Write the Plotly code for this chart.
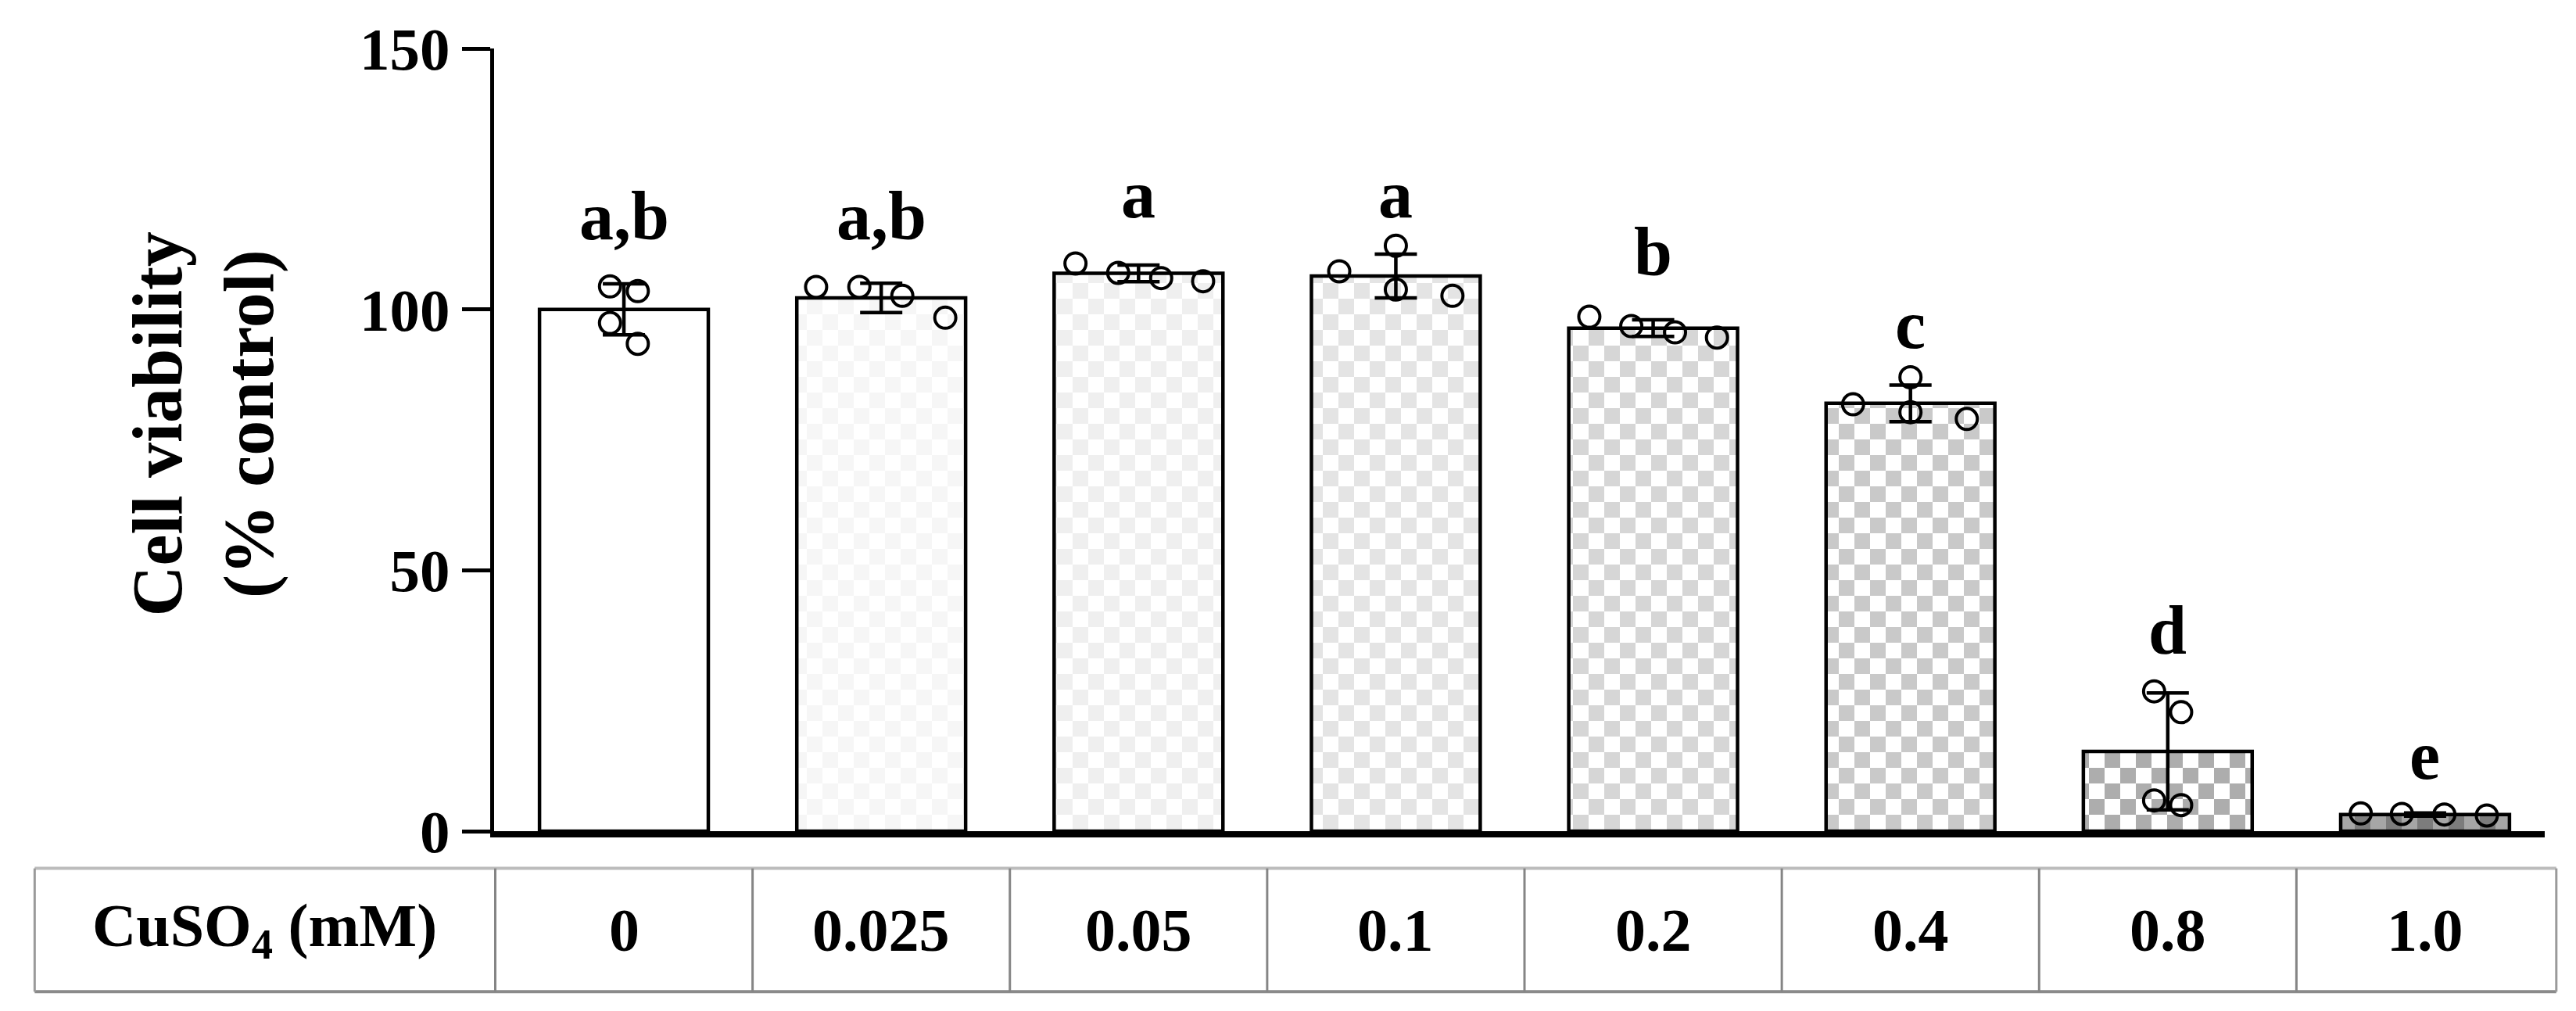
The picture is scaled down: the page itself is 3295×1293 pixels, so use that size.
import plotly.graph_objects as go

# ---------------- data ----------------
conc_labels = ["0", "0.025", "0.05", "0.1", "0.2", "0.4", "0.8", "1.0"]
means = [100.0, 102.2, 106.9, 106.4, 96.4, 82.0, 15.3, 3.2]
sds = [4.9, 2.8, 1.6, 4.2, 1.6, 3.5, 11.2, 0.3]
rep_values = [
    [104.4, 103.5, 97.4, 93.4],
    [104.3, 104.3, 102.6, 98.4],
    [108.8, 107.0, 106.0, 105.4],
    [107.3, 112.2, 103.8, 102.6],
    [98.6, 96.8, 95.6, 94.6],
    [81.8, 87.0, 80.3, 79.0],
    [26.8, 22.8, 5.9, 5.0],
    [3.4, 3.3, 3.2, 3.0],
]
rep_jitter = [
    [-0.054, 0.054, -0.054, 0.054],
    [-0.253, -0.085, 0.082, 0.249],
    [-0.245, -0.079, 0.088, 0.251],
    [-0.22, 0.0, 0.0, 0.22],
    [-0.248, -0.085, 0.085, 0.248],
    [-0.223, 0.0, 0.0, 0.219],
    [-0.053, 0.052, -0.053, 0.052],
    [-0.25, -0.09, 0.075, 0.24],
]
sig_letters = ["a,b", "a,b", "a", "a", "b", "c", "d", "e"]
letter_y = [117.8, 117.8, 122.1, 122.1, 110.9, 97.1, 38.5, 14.5]
y_ticks = [0, 50, 100, 150]
row_title = "CuSO<sub>4</sub> (mM)"
y_title = "Cell viability<br>(% control)"

# ---------------- styles ----------------
check_fg = ["#ffffff", "#f6f6f6", "#efefef", "#e4e4e4", "#d6d6d6", "#c9c9c9", "#adadad", "#7c7c7c"]
check_bg = ["#ffffff", "#ffffff", "#ffffff", "#ffffff", "#ffffff", "#ffffff", "#ffffff", "#a6a6a6"]
CHECKER = "M0,0H20V20H0ZM20,20H40V40H20Z"
FONT = "Liberation Serif"
X0, X1 = -0.5045, 7.465
TABLE_L, TABLE_R = -2.29, 7.51
W, H = 3295, 1293
ML, MR, MT, MB = 624, 48, 46, 238
plot_h = H - MT - MB

x_idx = list(range(len(conc_labels)))

fig = go.Figure()

for i in x_idx:
    marker = dict(color=check_bg[i], line=dict(color="black", width=4.5))
    if check_fg[i] != check_bg[i]:
        marker["pattern"] = dict(path=CHECKER, fgcolor=check_fg[i], bgcolor=check_bg[i],
                                 size=40, solidity=0.5, fillmode="replace")
    fig.add_trace(go.Bar(
        x=[i], y=[means[i]], width=0.656, marker=marker,
        error_y=dict(type="data", array=[sds[i]], visible=True, color="black", thickness=4.5, width=27),
        hoverinfo="skip",
    ))

px, py = [], []
for i, (vals, jit) in enumerate(zip(rep_values, rep_jitter)):
    for v, j in zip(vals, jit):
        px.append(i + j)
        py.append(v)
fig.add_trace(go.Scatter(
    x=px, y=py, mode="markers",
    marker=dict(symbol="circle-open", size=27, color="black", line=dict(width=4)),
    hoverinfo="skip",
))

annotations = []
for i, (lab, ly) in enumerate(zip(sig_letters, letter_y)):
    annotations.append(dict(x=i, y=ly, xref="x", yref="y", text=lab, showarrow=False,
                            yanchor="middle", xanchor="center",
                            font=dict(family=FONT, size=88, color="black", weight="bold")))


def to_paper(xv):
    return (xv - X0) / (X1 - X0)


tbl_top = -(1103 - (H - MB)) / plot_h
tbl_bot = -(1262 - (H - MB)) / plot_h
tbl_mid = (tbl_top + tbl_bot) / 2

shapes = []
shapes.append(dict(type="line", xref="paper", yref="paper", x0=to_paper(TABLE_L), x1=to_paper(TABLE_R),
                   y0=tbl_top, y1=tbl_top, line=dict(color="#bcbcbc", width=4)))
shapes.append(dict(type="line", xref="paper", yref="paper", x0=to_paper(TABLE_L), x1=to_paper(TABLE_R),
                   y0=tbl_bot, y1=tbl_bot, line=dict(color="#8a8a8a", width=4)))
for xv in (TABLE_L, TABLE_R):
    shapes.append(dict(type="line", xref="paper", yref="paper", x0=to_paper(xv), x1=to_paper(xv),
                       y0=tbl_top, y1=tbl_bot, line=dict(color="#9a9a9a", width=3)))
for i in x_idx:
    xv = i - 0.5
    shapes.append(dict(type="line", xref="paper", yref="paper", x0=to_paper(xv), x1=to_paper(xv),
                       y0=tbl_top, y1=tbl_bot, line=dict(color="#858585", width=3)))

tfont = dict(family=FONT, size=78, color="black", weight="bold")
for i, lab in enumerate(conc_labels):
    annotations.append(dict(x=i, y=tbl_mid, xref="x", yref="paper", text=lab, showarrow=False,
                            xanchor="center", yanchor="middle", font=tfont))
annotations.append(dict(x=to_paper((TABLE_L - 0.5) / 2), y=tbl_mid, xref="paper", yref="paper",
                        text=row_title, showarrow=False, xanchor="center", yanchor="middle", font=tfont))

annotations.append(dict(x=(252 - ML) / (W - ML - MR), y=0.52, xref="paper", yref="paper",
                        text=y_title, showarrow=False, textangle=-90, xanchor="center", yanchor="middle",
                        font=dict(family=FONT, size=90, color="black", weight="bold")))

fig.update_layout(
    width=W, height=H,
    margin=dict(l=ML, r=MR, t=MT, b=MB, pad=0),
    paper_bgcolor="white", plot_bgcolor="white",
    showlegend=False, barmode="overlay",
    annotations=annotations, shapes=shapes,
    xaxis=dict(range=[X0, X1], showline=True, linewidth=8, linecolor="black",
               showticklabels=False, ticks="", showgrid=False, zeroline=False),
    yaxis=dict(range=[0, 150], tickvals=y_ticks, ticks="outside", ticklen=36, tickwidth=5,
               tickcolor="black", showline=True, linewidth=5, linecolor="black",
               showgrid=False, zeroline=False,
               tickfont=dict(family=FONT, size=77, color="black", weight="bold")),
)

fig.write_html("out.html")
